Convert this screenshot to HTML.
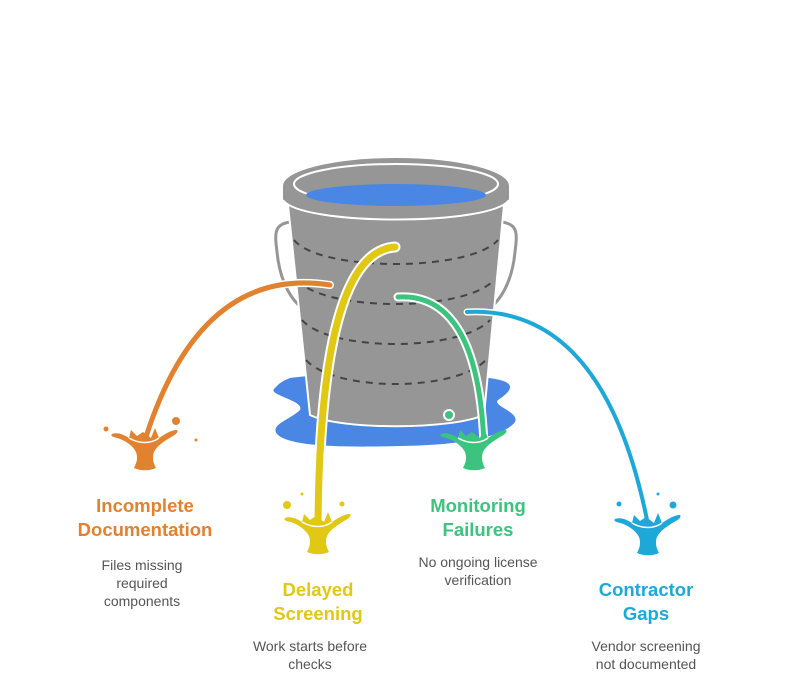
<!DOCTYPE html>
<html><head><meta charset="utf-8"><style>
body{margin:0;background:#fff;width:792px;height:697px;overflow:hidden}
svg{display:block;font-family:"Liberation Sans",sans-serif}
.t{font-weight:bold;font-size:18.5px;text-anchor:middle}
.d{font-size:14px;fill:#555;text-anchor:middle}
</style></head><body>
<svg width="792" height="697" viewBox="0 0 792 697">
<defs>
<g id="spl">
<path d="M-33,-6 C-28,-8 -22,-6 -16,-2 L-14,-10 L-8,-4 L-2,-8 L6,-2 L10,-12 L14,-2 C20,-6 26,-10 32,-10 C34,-8 30,-5 26,-3 C18,2 12,6 9,12 C7,18 8,22 11,28 C4,31 -4,31 -11,28 C-8,22 -7,18 -9,12 C-12,6 -20,0 -28,-2 C-32,-3 -35,-4 -33,-6 Z"/>
<path d="M-16,-2 C-6,4 6,4 14,-2" fill="none" stroke="#fff" stroke-width="1.5"/>
</g>
</defs>
<!-- puddle -->
<path d="M290,378 C330,372 470,372 500,380 C520,385 505,395 498,400 C492,406 520,412 515,422 C505,435 470,445 400,446 C330,448 290,445 278,435 C268,425 290,420 300,410 C305,400 265,395 275,388 C280,382 285,380 290,378 Z" fill="#4A86E4"/>
<!-- handle -->
<path d="M290,222 C272,225 275,235 278,260 C282,285 292,300 302,308" fill="none" stroke="#969696" stroke-width="3"/>
<path d="M502,222 C520,225 517,235 514,260 C510,285 500,300 490,308" fill="none" stroke="#969696" stroke-width="3"/>
<!-- body -->
<path d="M288,205 L504,205 L484,415 C450,430 340,430 310,415 Z" fill="#969696" stroke="#fff" stroke-width="2"/>
<g fill="none" stroke="#444" stroke-width="2" stroke-dasharray="7,6">
<path d="M294,240 C320,272 470,272 498,240"/>
<path d="M297,280 C325,312 465,312 494,280"/>
<path d="M302,320 C330,352 460,352 490,320"/>
<path d="M306,360 C335,392 455,392 486,360"/>
</g>
<!-- rim -->
<ellipse cx="396" cy="186" rx="113" ry="28" fill="#969696"/>
<rect x="283" y="186" width="226" height="16" fill="#969696"/>
<path d="M283,200 C300,226 492,226 509,200" fill="#969696" stroke="#fff" stroke-width="2"/>
<ellipse cx="396" cy="184" rx="102" ry="20" fill="none" stroke="#fff" stroke-width="2"/>
<ellipse cx="396" cy="195" rx="90" ry="11" fill="#4A86E4"/>
<!-- streams -->
<g fill="none" stroke-linecap="round">
<path d="M330,285 Q200,265 145,440" stroke="#fff" stroke-width="8"/>
<path d="M330,285 Q200,265 145,440" stroke="#E0822F" stroke-width="5"/>
<path d="M395,247 Q320,252 318,525" stroke="#fff" stroke-width="11"/>
<path d="M395,247 Q320,252 318,525" stroke="#E0C814" stroke-width="7"/>
<path d="M398,297 Q478,292 484,445" stroke="#fff" stroke-width="9"/>
<path d="M398,297 Q478,292 484,445" stroke="#3CC47E" stroke-width="5"/>
<path d="M467,312 Q605,305 648,525" stroke="#fff" stroke-width="7"/>
<path d="M467,312 Q605,305 648,525" stroke="#1EA8D8" stroke-width="4"/>
</g>
<circle cx="449" cy="415" r="5" fill="#3CC47E" stroke="#fff" stroke-width="2"/>
<!-- splashes -->
<g fill="#E0822F"><use href="#spl" transform="translate(145,440)"/><circle cx="176" cy="421" r="4"/><circle cx="106" cy="429" r="2.5"/><circle cx="196" cy="440" r="1.5"/></g>
<g fill="#E0C814"><use href="#spl" transform="translate(318,524)"/><circle cx="287" cy="505" r="4"/><circle cx="302" cy="494" r="1.5"/><circle cx="342" cy="504" r="2.5"/></g>
<g fill="#3CC47E"><use href="#spl" transform="translate(474,440)"/></g>
<g fill="#1EA8D8"><use href="#spl" transform="translate(648,525)"/><circle cx="673" cy="505" r="3.5"/><circle cx="619" cy="504" r="2.5"/><circle cx="658" cy="494" r="1.5"/></g>
<!-- text -->
<text class="t" x="145" y="512" fill="#E0822F">Incomplete</text>
<text class="t" x="145" y="536" fill="#E0822F">Documentation</text>
<text class="d" x="142" y="570">Files missing</text>
<text class="d" x="142" y="588">required</text>
<text class="d" x="142" y="606">components</text>
<text class="t" x="318" y="596" fill="#E0C814">Delayed</text>
<text class="t" x="318" y="620" fill="#E0C814">Screening</text>
<text class="d" x="310" y="651">Work starts before</text>
<text class="d" x="310" y="669">checks</text>
<text class="t" x="478" y="512" fill="#3CC47E">Monitoring</text>
<text class="t" x="478" y="536" fill="#3CC47E">Failures</text>
<text class="d" x="478" y="567">No ongoing license</text>
<text class="d" x="478" y="585">verification</text>
<text class="t" x="646" y="596" fill="#1EA8D8">Contractor</text>
<text class="t" x="646" y="620" fill="#1EA8D8">Gaps</text>
<text class="d" x="646" y="651">Vendor screening</text>
<text class="d" x="646" y="669">not documented</text>
</svg>
</body></html>
